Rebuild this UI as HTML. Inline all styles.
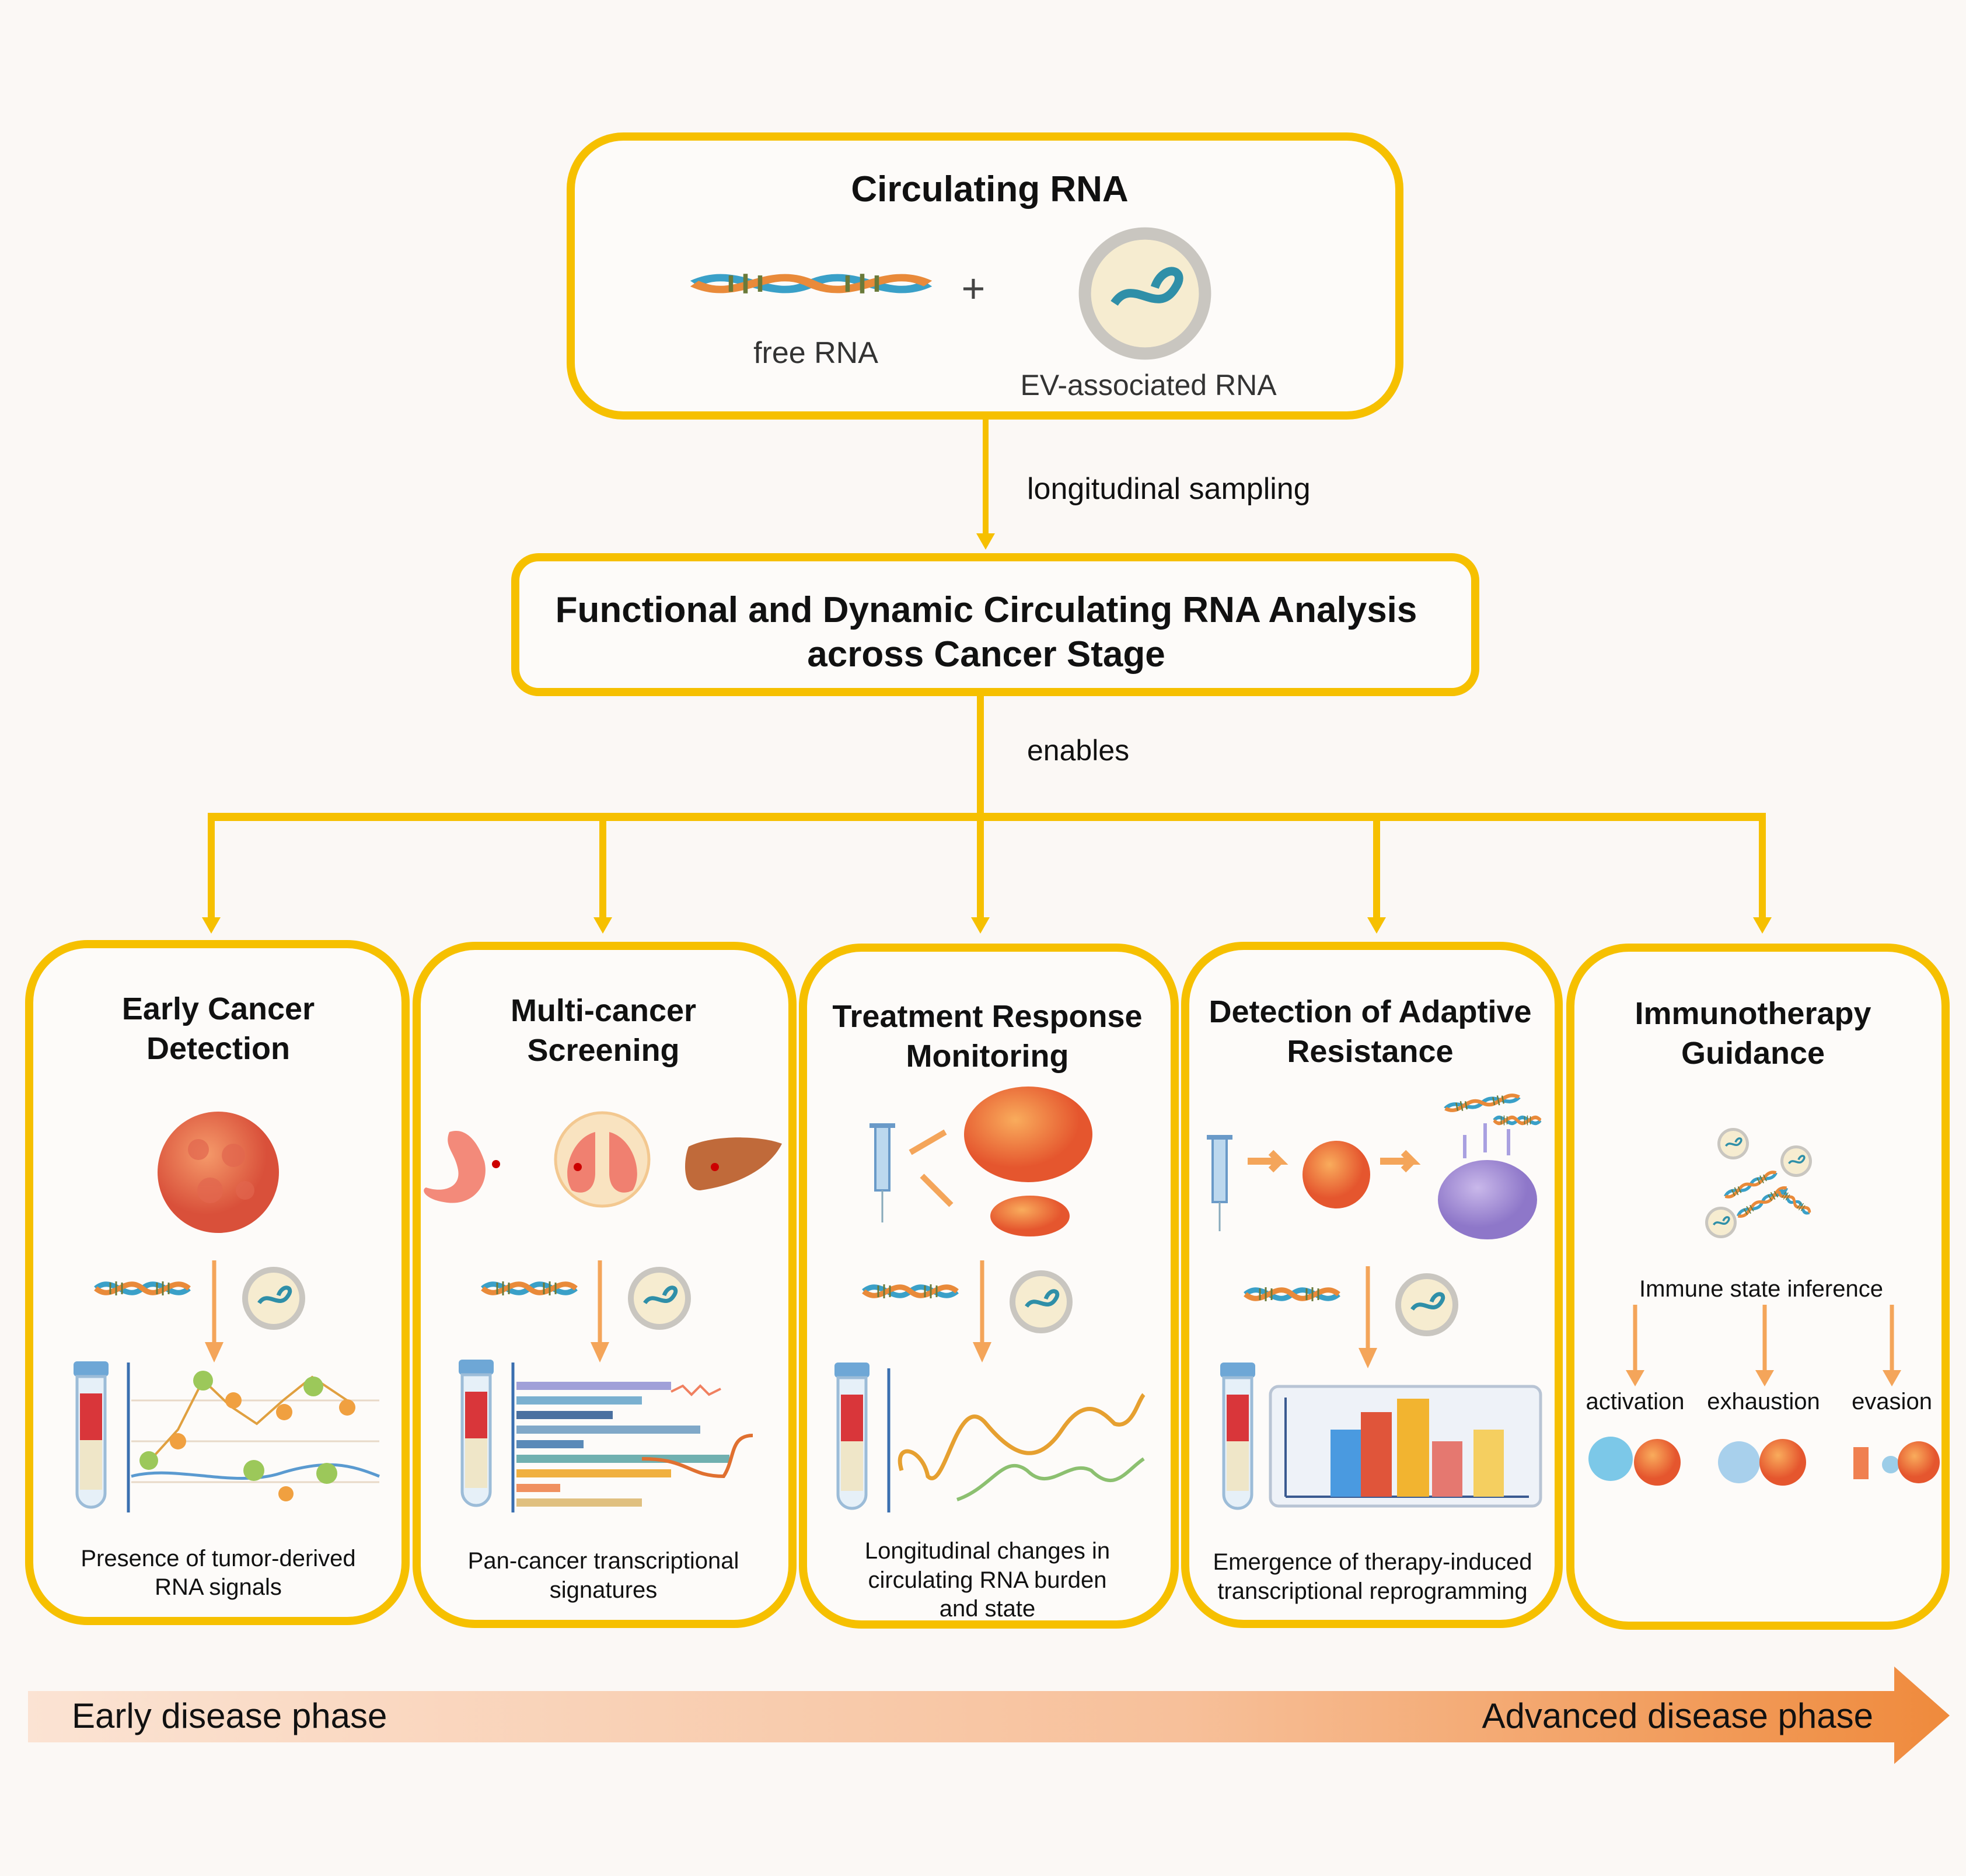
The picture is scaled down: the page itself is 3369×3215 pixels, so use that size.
<!DOCTYPE html>
<html><head><meta charset="utf-8"><style>
html,body{margin:0;padding:0;background:#fbf8f5}
svg{display:block}
text{font-family:"Liberation Sans",sans-serif;fill:#111}
.t{font-weight:bold;font-size:54px;text-anchor:middle}
.s{font-size:40px;text-anchor:middle}
</style></head><body>
<svg width="3369" height="3215" viewBox="0 0 3369 3215" xmlns="http://www.w3.org/2000/svg">
<defs>
<linearGradient id="ar" x1="0" x2="1"><stop offset="0" stop-color="#fbe3d3"/><stop offset="0.6" stop-color="#f7c09a"/><stop offset="1" stop-color="#ef8a3c"/></linearGradient>
<radialGradient id="tum" cx="0.4" cy="0.35"><stop offset="0" stop-color="#f59a6a"/><stop offset="1" stop-color="#d9503a"/></radialGradient>
<radialGradient id="tum2" cx="0.4" cy="0.35"><stop offset="0" stop-color="#f9ac5c"/><stop offset="1" stop-color="#e5562e"/></radialGradient>
<radialGradient id="pur" cx="0.4" cy="0.35"><stop offset="0" stop-color="#c9b8ea"/><stop offset="1" stop-color="#8e77c9"/></radialGradient>
<g id="dna"><path d="M-80,0 C-50,-25 -30,25 0,0 C30,-25 50,25 80,0" fill="none" stroke="#3aa0c8" stroke-width="9"/><path d="M-80,0 C-50,25 -30,-25 0,0 C30,25 50,-25 80,0" fill="none" stroke="#e98a3a" stroke-width="9"/><path d="M-55,-10v20M-45,-12v24M-35,-10v20M25,-10v20M35,-12v24M45,-10v20" stroke="#6a7a3a" stroke-width="3"/></g>
<g id="ev"><circle r="54" fill="#c9c6c0"/><circle r="44" fill="#f6ecd0"/><path d="M-25,8 C-10,-15 10,20 25,-5 C35,-20 15,-25 8,-5" fill="none" stroke="#2f8fa8" stroke-width="7"/></g>
<g id="tube"><rect x="-30" y="0" width="60" height="26" rx="6" fill="#6ea7d6"/><path d="M-24,26 v200 a24,24 0 0 0 48,0 v-200z" fill="#e6f0f8" stroke="#9cbcd8" stroke-width="5"/><rect x="-19" y="55" width="38" height="80" fill="#d9363a"/><rect x="-19" y="135" width="38" height="85" fill="#efe6c8"/></g>
<g id="dn"><line x1="0" y1="0" x2="0" y2="150" stroke="#f4a55a" stroke-width="7"/><path d="M-16,140 L16,140 L0,175z" fill="#f4a55a"/></g>
<path id="yh" d="M-16,-28 L16,-28 L0,0z" fill="#f6c000"/>
</defs>
<rect width="3369" height="3215" fill="#fbf8f5"/>

<!-- top box -->
<rect x="978" y="234" width="1420" height="478" rx="90" fill="#fdfbf9" stroke="#f6c000" stroke-width="14"/>
<text class="t" x="1696" y="345" style="font-size:62px">Circulating RNA</text>
<use href="#dna" transform="translate(1390,486) scale(2.5,1.4)"/>
<text x="1668" y="518" font-size="70" text-anchor="middle" style="fill:#444">+</text>
<g transform="translate(1962,503) scale(2.1)"><use href="#ev"/></g>
<text class="s" x="1398" y="622" style="font-size:52px;fill:#333">free RNA</text>
<text class="s" x="1968" y="677" style="font-size:50px;fill:#333">EV-associated RNA</text>

<line x1="1689" y1="719" x2="1689" y2="915" stroke="#f6c000" stroke-width="10"/>
<use href="#yh" transform="translate(1689,942)"/>
<text x="1760" y="855" font-size="52">longitudinal  sampling</text>

<!-- middle -->
<rect x="883" y="955" width="1645" height="231" rx="40" fill="#fdfbf9" stroke="#f6c000" stroke-width="14"/>
<text class="t" x="1690" y="1066" style="font-size:62px">Functional and Dynamic Circulating RNA Analysis</text>
<text class="t" x="1690" y="1142" style="font-size:62px">across Cancer Stage</text>

<line x1="1680" y1="1192" x2="1680" y2="1400" stroke="#f6c000" stroke-width="12"/>
<text x="1760" y="1303" font-size="50">enables</text>
<line x1="356" y1="1400" x2="3026" y2="1400" stroke="#f6c000" stroke-width="14"/>
<g stroke="#f6c000" stroke-width="12">
<line x1="362" y1="1400" x2="362" y2="1575"/>
<line x1="1033" y1="1400" x2="1033" y2="1575"/>
<line x1="1680" y1="1400" x2="1680" y2="1575"/>
<line x1="2359" y1="1400" x2="2359" y2="1575"/>
<line x1="3020" y1="1400" x2="3020" y2="1575"/>
</g>
<use href="#yh" transform="translate(362,1600)"/>
<use href="#yh" transform="translate(1033,1600)"/>
<use href="#yh" transform="translate(1680,1600)"/>
<use href="#yh" transform="translate(2359,1600)"/>
<use href="#yh" transform="translate(3020,1600)"/>

<!-- panels -->
<g fill="#fdfbf9" stroke="#f6c000" stroke-width="14">
<rect x="50" y="1618" width="645" height="1160" rx="100"/>
<rect x="714" y="1621" width="644" height="1162" rx="100"/>
<rect x="1376" y="1624" width="637" height="1160" rx="100"/>
<rect x="2031" y="1621" width="640" height="1162" rx="100"/>
<rect x="2691" y="1624" width="643" height="1162" rx="100"/>
</g>
<text class="t" x="374" y="1747">Early Cancer</text><text class="t" x="374" y="1815">Detection</text>
<text class="t" x="1034" y="1750">Multi-cancer</text><text class="t" x="1034" y="1818">Screening</text>
<text class="t" x="1692" y="1760">Treatment Response</text><text class="t" x="1692" y="1828">Monitoring</text>
<text class="t" x="2348" y="1752">Detection of Adaptive</text><text class="t" x="2348" y="1820">Resistance</text>
<text class="t" x="3004" y="1755">Immunotherapy</text><text class="t" x="3004" y="1823">Guidance</text>

<!-- panel 1 -->
<circle cx="374" cy="2009" r="104" fill="url(#tum)"/>
<g fill="#e2664e" opacity="0.7"><circle cx="340" cy="1970" r="18"/><circle cx="400" cy="1980" r="20"/><circle cx="360" cy="2040" r="22"/><circle cx="420" cy="2040" r="16"/></g>
<use href="#dna" transform="translate(244,2208)"/>
<use href="#ev" transform="translate(469,2225)"/>
<use href="#dn" transform="translate(367,2160)"/>
<use href="#tube" transform="translate(156,2333)"/>
<line x1="220" y1="2335" x2="220" y2="2592" stroke="#3a6fb0" stroke-width="5"/>
<g stroke="#e8d9c8" stroke-width="3"><line x1="225" y1="2400" x2="650" y2="2400"/><line x1="225" y1="2470" x2="650" y2="2470"/><line x1="225" y1="2540" x2="650" y2="2540"/></g>
<path d="M225,2530 C300,2510 400,2550 480,2525 S600,2510 650,2530" fill="none" stroke="#5a9ad0" stroke-width="5"/>
<polyline points="255,2505 305,2450 348,2365 395,2410 440,2440 485,2400 535,2360 595,2400" fill="none" stroke="#e0a040" stroke-width="4"/>
<g fill="#f0a040"><circle cx="305" cy="2470" r="14"/><circle cx="400" cy="2400" r="14"/><circle cx="487" cy="2420" r="14"/><circle cx="595" cy="2412" r="14"/><circle cx="490" cy="2560" r="13"/></g>
<g fill="#9cc85a"><circle cx="348" cy="2366" r="17"/><circle cx="537" cy="2376" r="17"/><circle cx="255" cy="2503" r="16"/><circle cx="435" cy="2520" r="18"/><circle cx="560" cy="2525" r="18"/></g>
<text class="s" x="374" y="2684">Presence of tumor-derived</text>
<text class="s" x="374" y="2733">RNA signals</text>

<!-- panel 2 -->
<path d="M770,1940 c30,-10 50,20 60,50 c10,40 -20,80 -70,70 c-30,-5 -40,-20 -30,-25 c30,10 60,0 55,-30 c-5,-30 -25,-40 -15,-65z" fill="#f38a7a"/>
<circle cx="1032" cy="1987" r="80" fill="#f9e3c0" stroke="#f3c890" stroke-width="5"/>
<path d="M1020,1940 c-40,10 -60,70 -40,100 c20,10 40,0 40,-30z M1044,1940 c40,10 60,70 40,100 c-20,10 -40,0 -40,-30z" fill="#f08070"/>
<path d="M1180,1965 c40,-20 120,-20 160,-5 c-20,40 -70,70 -140,80 c-30,0 -30,-50 -20,-75z" fill="#c06a3a"/>
<circle cx="850" cy="1995" r="7" fill="#c00"/><circle cx="990" cy="2000" r="7" fill="#c00"/><circle cx="1225" cy="2000" r="7" fill="#c00"/>
<use href="#dna" transform="translate(907,2208)"/>
<use href="#ev" transform="translate(1130,2225)"/>
<use href="#dn" transform="translate(1028,2160)"/>
<use href="#tube" transform="translate(816,2330)"/>
<line x1="879" y1="2335" x2="879" y2="2592" stroke="#3a6fb0" stroke-width="5"/>
<g stroke-width="14">
<line x1="885" y1="2375" x2="1150" y2="2375" stroke="#a0a0d8"/>
<line x1="885" y1="2400" x2="1100" y2="2400" stroke="#7ab0d0"/>
<line x1="885" y1="2425" x2="1050" y2="2425" stroke="#4a70a0"/>
<line x1="885" y1="2450" x2="1200" y2="2450" stroke="#80a8c8"/>
<line x1="885" y1="2475" x2="1000" y2="2475" stroke="#5a8ab8"/>
<line x1="885" y1="2500" x2="1250" y2="2500" stroke="#70b0b0"/>
<line x1="885" y1="2525" x2="1150" y2="2525" stroke="#f0b040"/>
<line x1="885" y1="2550" x2="960" y2="2550" stroke="#f09060"/>
<line x1="885" y1="2575" x2="1100" y2="2575" stroke="#e0c080"/>
</g>
<path d="M1150,2385 l20,-10 15,15 15,-15 15,15 20,-10" fill="none" stroke="#f08060" stroke-width="4"/>
<path d="M1100,2500 C1180,2500 1180,2530 1240,2530 C1260,2500 1250,2460 1290,2460" fill="none" stroke="#e07030" stroke-width="6"/>
<text class="s" x="1034" y="2688">Pan-cancer transcriptional</text>
<text class="s" x="1034" y="2738">signatures</text>

<!-- panel 3 -->
<rect x="1500" y="1930" width="24" height="110" fill="#bcd8ee" stroke="#6a9ac8" stroke-width="4"/><line x1="1512" y1="2040" x2="1512" y2="2095" stroke="#8ab" stroke-width="3"/><rect x="1490" y="1925" width="44" height="8" fill="#6a9ac8"/>
<path d="M1560,1975 l60,-35 M1580,2015 l50,50" stroke="#f4a55a" stroke-width="10"/>
<ellipse cx="1762" cy="1944" rx="110" ry="82" fill="url(#tum2)"/>
<ellipse cx="1765" cy="2084" rx="68" ry="35" fill="url(#tum2)"/>
<use href="#dna" transform="translate(1560,2213)"/>
<use href="#ev" transform="translate(1784,2231)"/>
<use href="#dn" transform="translate(1683,2160)"/>
<use href="#tube" transform="translate(1460,2335)"/>
<line x1="1523" y1="2345" x2="1523" y2="2592" stroke="#3a6fb0" stroke-width="5"/>
<path d="M1545,2520 C1530,2470 1580,2480 1590,2530 C1620,2560 1640,2380 1690,2440 C1740,2500 1780,2510 1820,2450 C1860,2390 1890,2420 1910,2440 C1940,2450 1950,2400 1960,2390" fill="none" stroke="#e6a030" stroke-width="7"/>
<path d="M1640,2570 C1700,2550 1720,2490 1760,2520 C1800,2560 1830,2500 1870,2520 C1910,2560 1930,2520 1960,2500" fill="none" stroke="#8cc070" stroke-width="6"/>
<text class="s" x="1692" y="2671">Longitudinal changes in</text>
<text class="s" x="1692" y="2721">circulating RNA burden</text>
<text class="s" x="1692" y="2770">and state</text>

<!-- panel 4 -->
<rect x="2078" y="1950" width="24" height="110" fill="#bcd8ee" stroke="#6a9ac8" stroke-width="4"/><line x1="2090" y1="2060" x2="2090" y2="2110" stroke="#8ab" stroke-width="3"/><rect x="2068" y="1945" width="44" height="8" fill="#6a9ac8"/>
<path d="M2138,1990 h55 l-15,-15 M2193,1990 l-15,15" stroke="#f4a55a" stroke-width="12" fill="none"/>
<path d="M2365,1990 h55 l-15,-15 M2420,1990 l-15,15" stroke="#f4a55a" stroke-width="12" fill="none"/>
<circle cx="2290" cy="2013" r="58" fill="url(#tum2)"/>
<ellipse cx="2549" cy="2056" rx="85" ry="68" fill="url(#pur)"/>
<use href="#dna" transform="translate(2540,1890) scale(0.8,0.7) rotate(-10)"/>
<use href="#dna" transform="translate(2600,1920) scale(0.5,0.7)"/>
<path d="M2510,1985 v-40 M2545,1975 v-50 M2585,1980 v-45" stroke="#a9a0e0" stroke-width="6"/>
<use href="#dna" transform="translate(2214,2218)"/>
<use href="#ev" transform="translate(2445,2236)"/>
<use href="#dn" transform="translate(2344,2170)"/>
<use href="#tube" transform="translate(2121,2335)"/>
<rect x="2177" y="2376" width="463" height="205" rx="14" fill="#eef2f8" stroke="#b8c4d4" stroke-width="5"/>
<line x1="2203" y1="2395" x2="2203" y2="2565" stroke="#3a5a90" stroke-width="4"/>
<line x1="2203" y1="2565" x2="2620" y2="2565" stroke="#3a5a90" stroke-width="4"/>
<rect x="2280" y="2450" width="53" height="115" fill="#4a9ae0"/>
<rect x="2332" y="2420" width="53" height="145" fill="#e0553a"/>
<rect x="2394" y="2397" width="55" height="168" fill="#f2b430"/>
<rect x="2454" y="2470" width="52" height="95" fill="#e57870"/>
<rect x="2525" y="2450" width="52" height="115" fill="#f5cf60"/>
<text class="s" x="2352" y="2690">Emergence of therapy-induced</text>
<text class="s" x="2352" y="2740">transcriptional reprogramming</text>

<!-- panel 5 -->
<g transform="scale(0.5)"><use href="#ev" transform="translate(5940,3920)"/><use href="#ev" transform="translate(6156,3980)"/><use href="#ev" transform="translate(5898,4190)"/></g>
<g transform="translate(3000,2030) rotate(-25) scale(0.6,0.6)"><use href="#dna"/></g>
<g transform="translate(3020,2060) rotate(-30) scale(0.6,0.6)"><use href="#dna"/></g>
<g transform="translate(3075,2060) rotate(35) scale(0.4,0.6)"><use href="#dna"/></g>
<text class="s" x="3018" y="2222">Immune state inference</text>
<use href="#dn" transform="translate(2802,2236) scale(1,0.8)"/>
<use href="#dn" transform="translate(3024,2236) scale(1,0.8)"/>
<use href="#dn" transform="translate(3242,2236) scale(1,0.8)"/>
<text class="s" x="2802" y="2415">activation</text>
<text class="s" x="3022" y="2415">exhaustion</text>
<text class="s" x="3242" y="2415">evasion</text>
<circle cx="2760" cy="2500" r="38" fill="#7cc8e8"/><circle cx="2840" cy="2506" r="40" fill="url(#tum2)"/>
<circle cx="2980" cy="2506" r="36" fill="#a8d0ec"/><circle cx="3055" cy="2506" r="40" fill="url(#tum2)"/>
<rect x="3176" y="2480" width="26" height="55" fill="#f08050"/><circle cx="3240" cy="2510" r="15" fill="#9ccde8"/><circle cx="3288" cy="2506" r="36" fill="url(#tum2)"/>

<!-- bottom arrow -->
<path d="M48,2898 H3246 V2856 L3341,2940 L3246,3023 V2986 H48z" fill="url(#ar)"/>
<text x="123" y="2961" font-size="60">Early disease phase</text>
<text x="3210" y="2961" font-size="60" text-anchor="end">Advanced disease phase</text>
</svg>
</body></html>
